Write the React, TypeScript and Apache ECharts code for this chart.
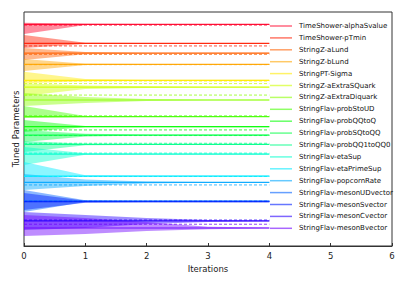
import React, { useEffect, useRef } from "react";
import * as echarts from "echarts";

const params = [
  "TimeShower-alphaSvalue",
  "TimeShower-pTmin",
  "StringZ-aLund",
  "StringZ-bLund",
  "StringPT-Sigma",
  "StringZ-aExtraSQuark",
  "StringZ-aExtraDiquark",
  "StringFlav-probStoUD",
  "StringFlav-probQQtoQ",
  "StringFlav-probSQtoQQ",
  "StringFlav-probQQ1toQQ0",
  "StringFlav-etaSup",
  "StringFlav-etaPrimeSup",
  "StringFlav-popcornRate",
  "StringFlav-mesonUDvector",
  "StringFlav-mesonSvector",
  "StringFlav-mesonCvector",
  "StringFlav-mesonBvector",
];

const colors = [
  "#ff0029", "#ff1c00", "#ff6000", "#ffa500", "#ffea00", "#cfff00",
  "#8aff00", "#45ff00", "#00ff00", "#00ff44", "#00ff89", "#00ffcd",
  "#00ebff", "#00a6ff", "#0061ff", "#001cff", "#2a00ff", "#6f00ff",
];

const iterations = [0, 1, 2, 3, 4];

const tuned = [
  [94.7, 94.7, 94.7, 94.7, 94.7],
  [86.6, 86.6, 86.6, 86.6, 86.6],
  [82.4, 82.4, 82.4, 82.4, 82.4],
  [77.6, 77.6, 77.6, 77.6, 77.6],
  [70.8, 70.8, 70.8, 70.8, 70.8],
  [67.9, 67.9, 67.9, 67.9, 67.9],
  [62.4, 62.4, 62.4, 62.4, 62.4],
  [55.3, 55.3, 55.3, 55.3, 55.3],
  [51.0, 51.0, 51.0, 51.0, 51.0],
  [47.4, 47.4, 47.4, 47.4, 47.4],
  [43.4, 43.4, 43.4, 43.4, 43.4],
  [39.3, 39.3, 39.3, 39.3, 39.3],
  [29.9, 29.9, 29.9, 29.9, 29.9],
  [27.2, 27.2, 27.2, 27.2, 27.2],
  [19.2, 19.2, 19.2, 19.2, 19.2],
  [18.9, 18.9, 18.9, 18.9, 18.9],
  [10.7, 10.7, 10.7, 10.7, 10.7],
  [7.7, 7.7, 7.7, 7.7, 7.7],
];

const trueValues = [
  94.4, 85.5, 81.9, 77.5, 70.5, 69.4, 64.5, 55.6, 49.6, 47.2, 43.9, 39.7,
  29.7, 26.1, 19.2, 19.0, 11.1, 9.3,
];

const bandUpper = [
  [95.4, 95.0, 94.9, 94.9, 94.9],
  [90.2, 86.9, 86.8, 86.8, 86.8],
  [84.6, 82.9, 82.6, 82.6, 82.6],
  [79.9, 77.9, 77.8, 77.8, 77.8],
  [74.5, 71.4, 71.0, 71.0, 71.0],
  [69.5, 68.6, 68.3, 68.1, 68.1],
  [65.4, 63.7, 62.8, 62.6, 62.6],
  [59.8, 55.6, 55.5, 55.5, 55.5],
  [53.8, 51.3, 51.2, 51.2, 51.2],
  [49.6, 48.0, 47.6, 47.6, 47.6],
  [44.9, 43.7, 43.6, 43.6, 43.6],
  [42.3, 39.6, 39.5, 39.5, 39.5],
  [35.9, 30.2, 30.1, 30.1, 30.1],
  [30.8, 28.4, 27.6, 27.4, 27.4],
  [23.9, 19.6, 19.4, 19.4, 19.4],
  [22.6, 19.3, 19.1, 19.1, 19.1],
  [14.5, 13.2, 12.0, 11.1, 10.9],
  [13.2, 12.0, 10.3, 8.2, 7.9],
];

const bandLower = [
  [90.6, 94.4, 94.5, 94.5, 94.5],
  [84.6, 86.3, 86.4, 86.4, 86.4],
  [79.5, 81.9, 82.2, 82.2, 82.2],
  [74.8, 77.3, 77.4, 77.4, 77.4],
  [69.5, 70.4, 70.6, 70.6, 70.6],
  [64.1, 67.1, 67.5, 67.7, 67.7],
  [59.8, 61.1, 62.0, 62.2, 62.2],
  [54.7, 55.0, 55.1, 55.1, 55.1],
  [48.7, 50.7, 50.8, 50.8, 50.8],
  [44.4, 46.8, 47.2, 47.2, 47.2],
  [40.2, 43.1, 43.2, 43.2, 43.2],
  [34.6, 39.0, 39.1, 39.1, 39.1],
  [29.5, 29.6, 29.7, 29.7, 29.7],
  [23.9, 25.6, 26.7, 27.0, 27.0],
  [14.5, 18.8, 19.0, 19.0, 19.0],
  [15.4, 18.5, 18.7, 18.7, 18.7],
  [6.8, 7.7, 9.4, 10.3, 10.5],
  [4.3, 5.1, 6.4, 7.2, 7.5],
];

const xTicks = [0, 1, 2, 3, 4, 5, 6];

export default function App() {
  const ref = useRef<HTMLDivElement>(null);

  useEffect(() => {
    const chart = echarts.init(ref.current!, null, { renderer: "svg" });
    const font = "DejaVu Sans";
    const series: any[] = [];

    series.push({
      type: "custom",
      name: "bands",
      silent: true,
      z: 1,
      encode: { x: 0, y: 1 },
      data: params.map((_, i) => [0, 50, i]),
      renderItem: (_p: any, api: any) => {
        const i = api.value(2);
        const top = iterations.map((x, k) => api.coord([x, bandUpper[i][k]]));
        const bottom = iterations
          .map((x, k) => api.coord([x, bandLower[i][k]]))
          .reverse();
        return {
          type: "polygon",
          shape: { points: top.concat(bottom) },
          style: { fill: colors[i], opacity: 0.45 },
        };
      },
    });

    params.forEach((name, i) => {
      const c = colors[i];
      series.push({
        type: "line",
        name: name + " (true)",
        data: iterations.map((x) => [x, trueValues[i]]),
        symbol: "none",
        lineStyle: { color: c, width: 1, type: [3, 2], opacity: 0.75 },
        silent: true,
        z: 2,
      });
      series.push({
        type: "line",
        name,
        data: iterations.map((x, k) => [x, tuned[i][k]]),
        symbol: "none",
        itemStyle: { color: c },
        lineStyle: { color: c, width: 1.2, opacity: 0.9 },
        silent: true,
        z: 3,
      });
    });

    chart.setOption({
      animation: false,
      grid: {
        left: 24,
        right: 15,
        top: 12,
        bottom: 39,
        show: true,
        borderColor: "#333",
        borderWidth: 1,
        backgroundColor: "transparent",
      },
      legend: {
        data: params,
        orient: "vertical",
        left: 270,
        top: 22,
        icon: "rect",
        itemWidth: 22,
        itemHeight: 1.5,
        itemGap: 3.9,
        padding: 0,
        selectedMode: false,
        itemStyle: { opacity: 0.6 },
        textStyle: {
          fontFamily: font,
          fontSize: 7,
          lineHeight: 8,
          color: "#111",
          padding: [0, 0, 0, 2],
        },
      },
      xAxis: {
        type: "value",
        min: xTicks[0],
        max: xTicks[xTicks.length - 1],
        interval: 1,
        name: "Iterations",
        nameLocation: "middle",
        nameGap: 17,
        nameTextStyle: { fontFamily: font, fontSize: 8.5, color: "#222" },
        axisLine: { show: true, lineStyle: { color: "#333", width: 1 } },
        axisTick: { show: true, inside: true, length: 3, lineStyle: { color: "#333" } },
        axisLabel: { fontFamily: font, fontSize: 8.5, color: "#222", margin: 5 },
        splitLine: { show: false },
      },
      yAxis: {
        type: "value",
        min: 0,
        max: 100,
        name: "Tuned Parameters",
        nameLocation: "middle",
        nameRotate: 90,
        nameGap: 4,
        nameTextStyle: { fontFamily: font, fontSize: 8.5, color: "#222" },
        axisLine: { show: false },
        axisTick: { show: false },
        axisLabel: { show: false },
        splitLine: { show: false },
      },
      series,
    });

    return () => chart.dispose();
  }, []);

  return (
    <div
      ref={ref}
      style={{ position: "fixed", left: 0, top: 0, width: 407, height: 285, background: "#fff" }}
    />
  );
}
